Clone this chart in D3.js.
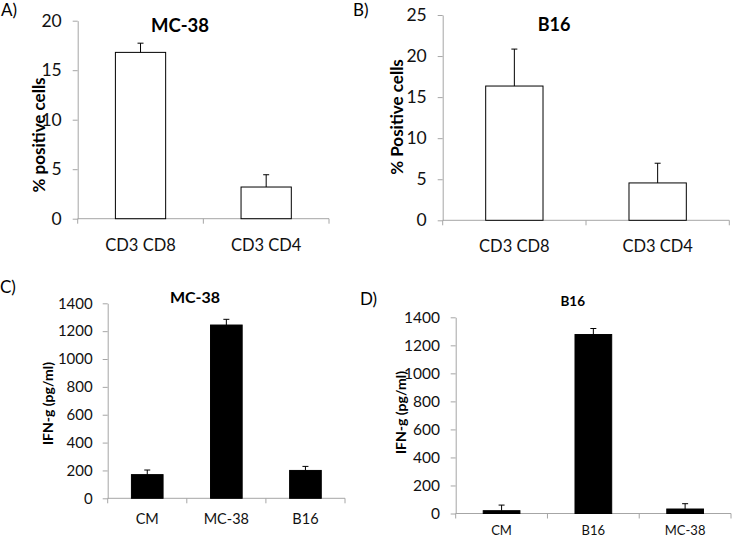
<!DOCTYPE html>
<html><head><meta charset="utf-8">
<script src="https://cdn.jsdelivr.net/npm/d3@7/dist/d3.min.js"></script>
<style>
html,body{margin:0;padding:0;background:#fff;}
svg{display:block;font-family:Lato,"Open Sans",sans-serif;}
</style></head>
<body><svg id="c" width="733" height="537"></svg>
<script>
// ---- data ----
const catsAB = ["CD3 CD8", "CD3 CD4"];
const pctMC38 = [16.8, 3.2];
const pctMC38Err = [0.93, 1.24];
const pctB16 = [16.35, 4.55];
const pctB16Err = [4.5, 2.4];
const catsC = ["CM", "MC-38", "B16"];
const ifnMC38 = [170, 1244, 200];
const ifnMC38Err = [33, 41, 29];
const catsD = ["CM", "B16", "MC-38"];
const ifnB16 = [20, 1277, 32];
const ifnB16Err = [40, 43, 38];
const ticksAB_A = [0, 5, 10, 15, 20];
const ticksAB_B = [0, 5, 10, 15, 20, 25];
const ticksIFN = [0, 200, 400, 600, 800, 1000, 1200, 1400];

const svg = d3.select("#c");
const axisColor = "#a6a6a6";

function panel(o) {
  const g = svg.append("g");
  const x = d3.scaleBand().domain(o.cats).range([o.x0, o.x1]).paddingInner(0.6).paddingOuter(0.3);
  const y = d3.scaleLinear().domain([0, o.max]).range([o.y0, o.yTop]);
  // y axis
  const ya = g.append("g").attr("transform", `translate(${o.x0},0)`)
    .call(d3.axisLeft(y).tickValues(o.ticks).tickFormat(d3.format("d")).tickSize(5).tickSizeOuter(0).tickPadding(o.tickPad));
  ya.select(".domain").attr("stroke", axisColor);
  ya.selectAll(".tick line").attr("stroke", axisColor);
  ya.selectAll(".tick text").attr("font-size", o.tickFont).attr("fill", "#111").attr("font-family", "Lato");
  // x axis line and boundary ticks
  const step = x.step();
  const bounds = o.cats.map(c => x(c) - step * 0.3).concat([o.x1]);
  g.append("line").attr("x1", o.x0).attr("x2", o.x1).attr("y1", y(0)).attr("y2", y(0)).attr("stroke", axisColor);
  g.selectAll(".xt").data(bounds).join("line")
    .attr("x1", d => d).attr("x2", d => d).attr("y1", y(0)).attr("y2", y(0) + 5).attr("stroke", axisColor);
  // bars
  g.selectAll(".bar").data(o.vals).join("rect")
    .attr("x", (d, i) => x(o.cats[i])).attr("width", x.bandwidth())
    .attr("y", d => y(d)).attr("height", d => y(0) - y(d))
    .attr("fill", o.fill).attr("stroke", "#000").attr("stroke-width", 1);
  // error bars (upper only)
  const cap = 3;
  o.vals.forEach((v, i) => {
    const cx = x(o.cats[i]) + x.bandwidth() / 2;
    g.append("line").attr("x1", cx).attr("x2", cx).attr("y1", y(v)).attr("y2", y(v + o.errs[i])).attr("stroke", "#000");
    g.append("line").attr("x1", cx - cap).attr("x2", cx + cap).attr("y1", y(v + o.errs[i])).attr("y2", y(v + o.errs[i])).attr("stroke", "#000");
  });
  // category labels
  g.selectAll(".xl").data(o.cats).join("text")
    .attr("x", d => x(d) + x.bandwidth() / 2).attr("y", o.labY)
    .attr("text-anchor", "middle").attr("font-size", o.labFont).attr("fill", "#111").text(d => d);
  // title
  g.append("text").attr("x", o.titleX).attr("y", o.titleY).attr("text-anchor", "middle")
    .attr("font-weight", "bold").attr("font-size", o.titleFont).attr("fill", "#000").text(o.title);
  // y title
  g.append("text").attr("transform", `translate(${o.ytX},${o.ytY}) rotate(-90)`)
    .attr("text-anchor", "middle").attr("dominant-baseline", "central")
    .attr("font-weight", "bold").attr("font-size", o.ytFont).attr("fill", "#000").text(o.ytitle);
  // panel letter
  g.append("text").attr("x", o.letX).attr("y", o.letY).attr("font-size", 17).attr("fill", "#000").text(o.letter);
}

panel({cats: catsAB, vals: pctMC38, errs: pctMC38Err, max: 20, ticks: ticksAB_A,
  x0: 77.7, x1: 329, y0: 218.7, yTop: 20.7, fill: "#fff", tickFont: 17.5, tickPad: 11,
  labY: 251, labFont: 16.5, title: "MC-38", titleX: 180, titleY: 31.5, titleFont: 18.5,
  ytitle: "% positive cells", ytX: 38, ytY: 135, ytFont: 17, letter: "A)", letX: 1, letY: 16});
panel({cats: catsAB, vals: pctB16, errs: pctB16Err, max: 25, ticks: ticksAB_B,
  x0: 442.7, x1: 729.3, y0: 220.3, yTop: 15, fill: "#fff", tickFont: 17.5, tickPad: 11,
  labY: 251.5, labFont: 16.5, title: "B16", titleX: 554, titleY: 30.5, titleFont: 18,
  ytitle: "% Positive cells", ytX: 396, ytY: 117, ytFont: 17, letter: "B)", letX: 353, letY: 16});
panel({cats: catsC, vals: ifnMC38, errs: ifnMC38Err, max: 1400, ticks: ticksIFN,
  x0: 107.7, x1: 345, y0: 498.3, yTop: 303.3, fill: "#000", tickFont: 15, tickPad: 10,
  labY: 524, labFont: 14.5, title: "MC-38", titleX: 195, titleY: 302.5, titleFont: 16,
  ytitle: "IFN-g (pg/ml)", ytX: 47.5, ytY: 403.5, ytFont: 14, letter: "C)", letX: 0, letY: 293});
panel({cats: catsD, vals: ifnB16, errs: ifnB16Err, max: 1400, ticks: ticksIFN,
  x0: 455.7, x1: 731, y0: 513.5, yTop: 317.3, fill: "#000", tickFont: 15.5, tickPad: 10.7,
  labY: 535, labFont: 13, title: "B16", titleX: 572.7, titleY: 306, titleFont: 13.5,
  ytitle: "IFN-g (pg/ml)", ytX: 400, ytY: 412.5, ytFont: 14, letter: "D)", letX: 360, letY: 305});
</script></body></html>
